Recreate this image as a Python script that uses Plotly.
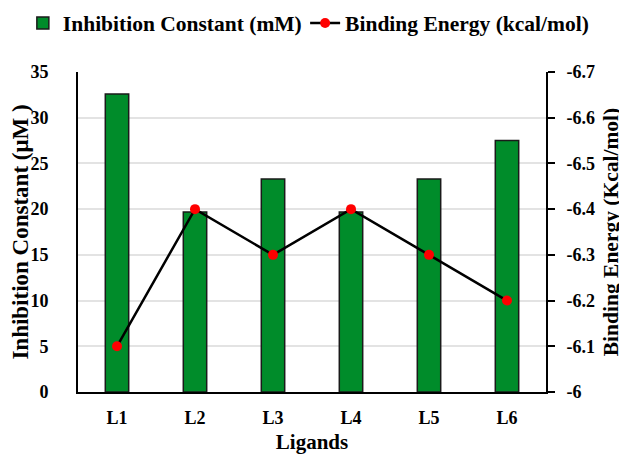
import plotly.graph_objects as go

ligands = ["L1", "L2", "L3", "L4", "L5", "L6"]
inhibition = [32.6, 19.7, 23.3, 19.7, 23.3, 27.5]
binding = [-6.1, -6.4, -6.3, -6.4, -6.3, -6.2]
left_ticks = [0, 5, 10, 15, 20, 25, 30, 35]
right_ticks = [-6, -6.1, -6.2, -6.3, -6.4, -6.5, -6.6, -6.7]

FAM = "Liberation Serif"

def bf(size):
    return dict(family=FAM, size=size, color="black", weight="bold")

fig = go.Figure()
fig.add_trace(go.Bar(
    x=ligands, y=inhibition, name="Inhibition Constant (mM)",
    marker=dict(color="#008C2A", line=dict(color="#1a1a1a", width=1.5)),
    width=0.3, yaxis="y", legend="legend",
))
fig.add_trace(go.Scatter(
    x=ligands, y=binding, name="Binding Energy (kcal/mol)",
    mode="lines+markers",
    line=dict(color="black", width=2.5),
    marker=dict(color="#FF0000", size=10),
    yaxis="y2", legend="legend2",
))

leg_common = dict(orientation="h", xref="container", yref="container",
                  xanchor="left", y=0.967, yanchor="middle",
                  font=bf(21.5), itemwidth=30, bgcolor="rgba(0,0,0,0)")

fig.update_layout(
    width=619, height=454,
    margin=dict(l=70, r=81, t=64, b=70, autoexpand=False),
    plot_bgcolor="white", paper_bgcolor="white",
    font=bf(17),
    showlegend=True,
    legend=dict(x=0.024, **leg_common),
    legend2=dict(x=0.48, **leg_common),
    xaxis=dict(
        showline=True, linecolor="black", linewidth=2, ticks="",
        tickfont=bf(18), ticklabelstandoff=8,
        title=dict(text="Ligands", font=bf(21), standoff=8),
    ),
    yaxis=dict(
        range=[0, 35], tickvals=left_ticks,
        showline=True, linecolor="black", linewidth=2,
        showgrid=True, gridcolor="#e3e3e3", gridwidth=1.5,
        zeroline=False, ticks="", ticklabelstandoff=24,
        tickfont=bf(18),
        title=dict(text="Inhibition Constant (μM )", font=bf(23), standoff=7),
    ),
    yaxis2=dict(
        range=[-6, -6.7], tickvals=right_ticks, ticktext=["%g" % v for v in right_ticks],
        overlaying="y", side="right",
        showline=True, linecolor="black", linewidth=2,
        showgrid=False, zeroline=False,
        ticks="outside", ticklen=7, tickwidth=2, tickcolor="black",
        ticklabelstandoff=8,
        tickfont=bf(18),
        title=dict(text="Binding Energy (Kcal/mol)", font=bf(21.5), standoff=9),
    ),
)

fig.write_html("out.html")
